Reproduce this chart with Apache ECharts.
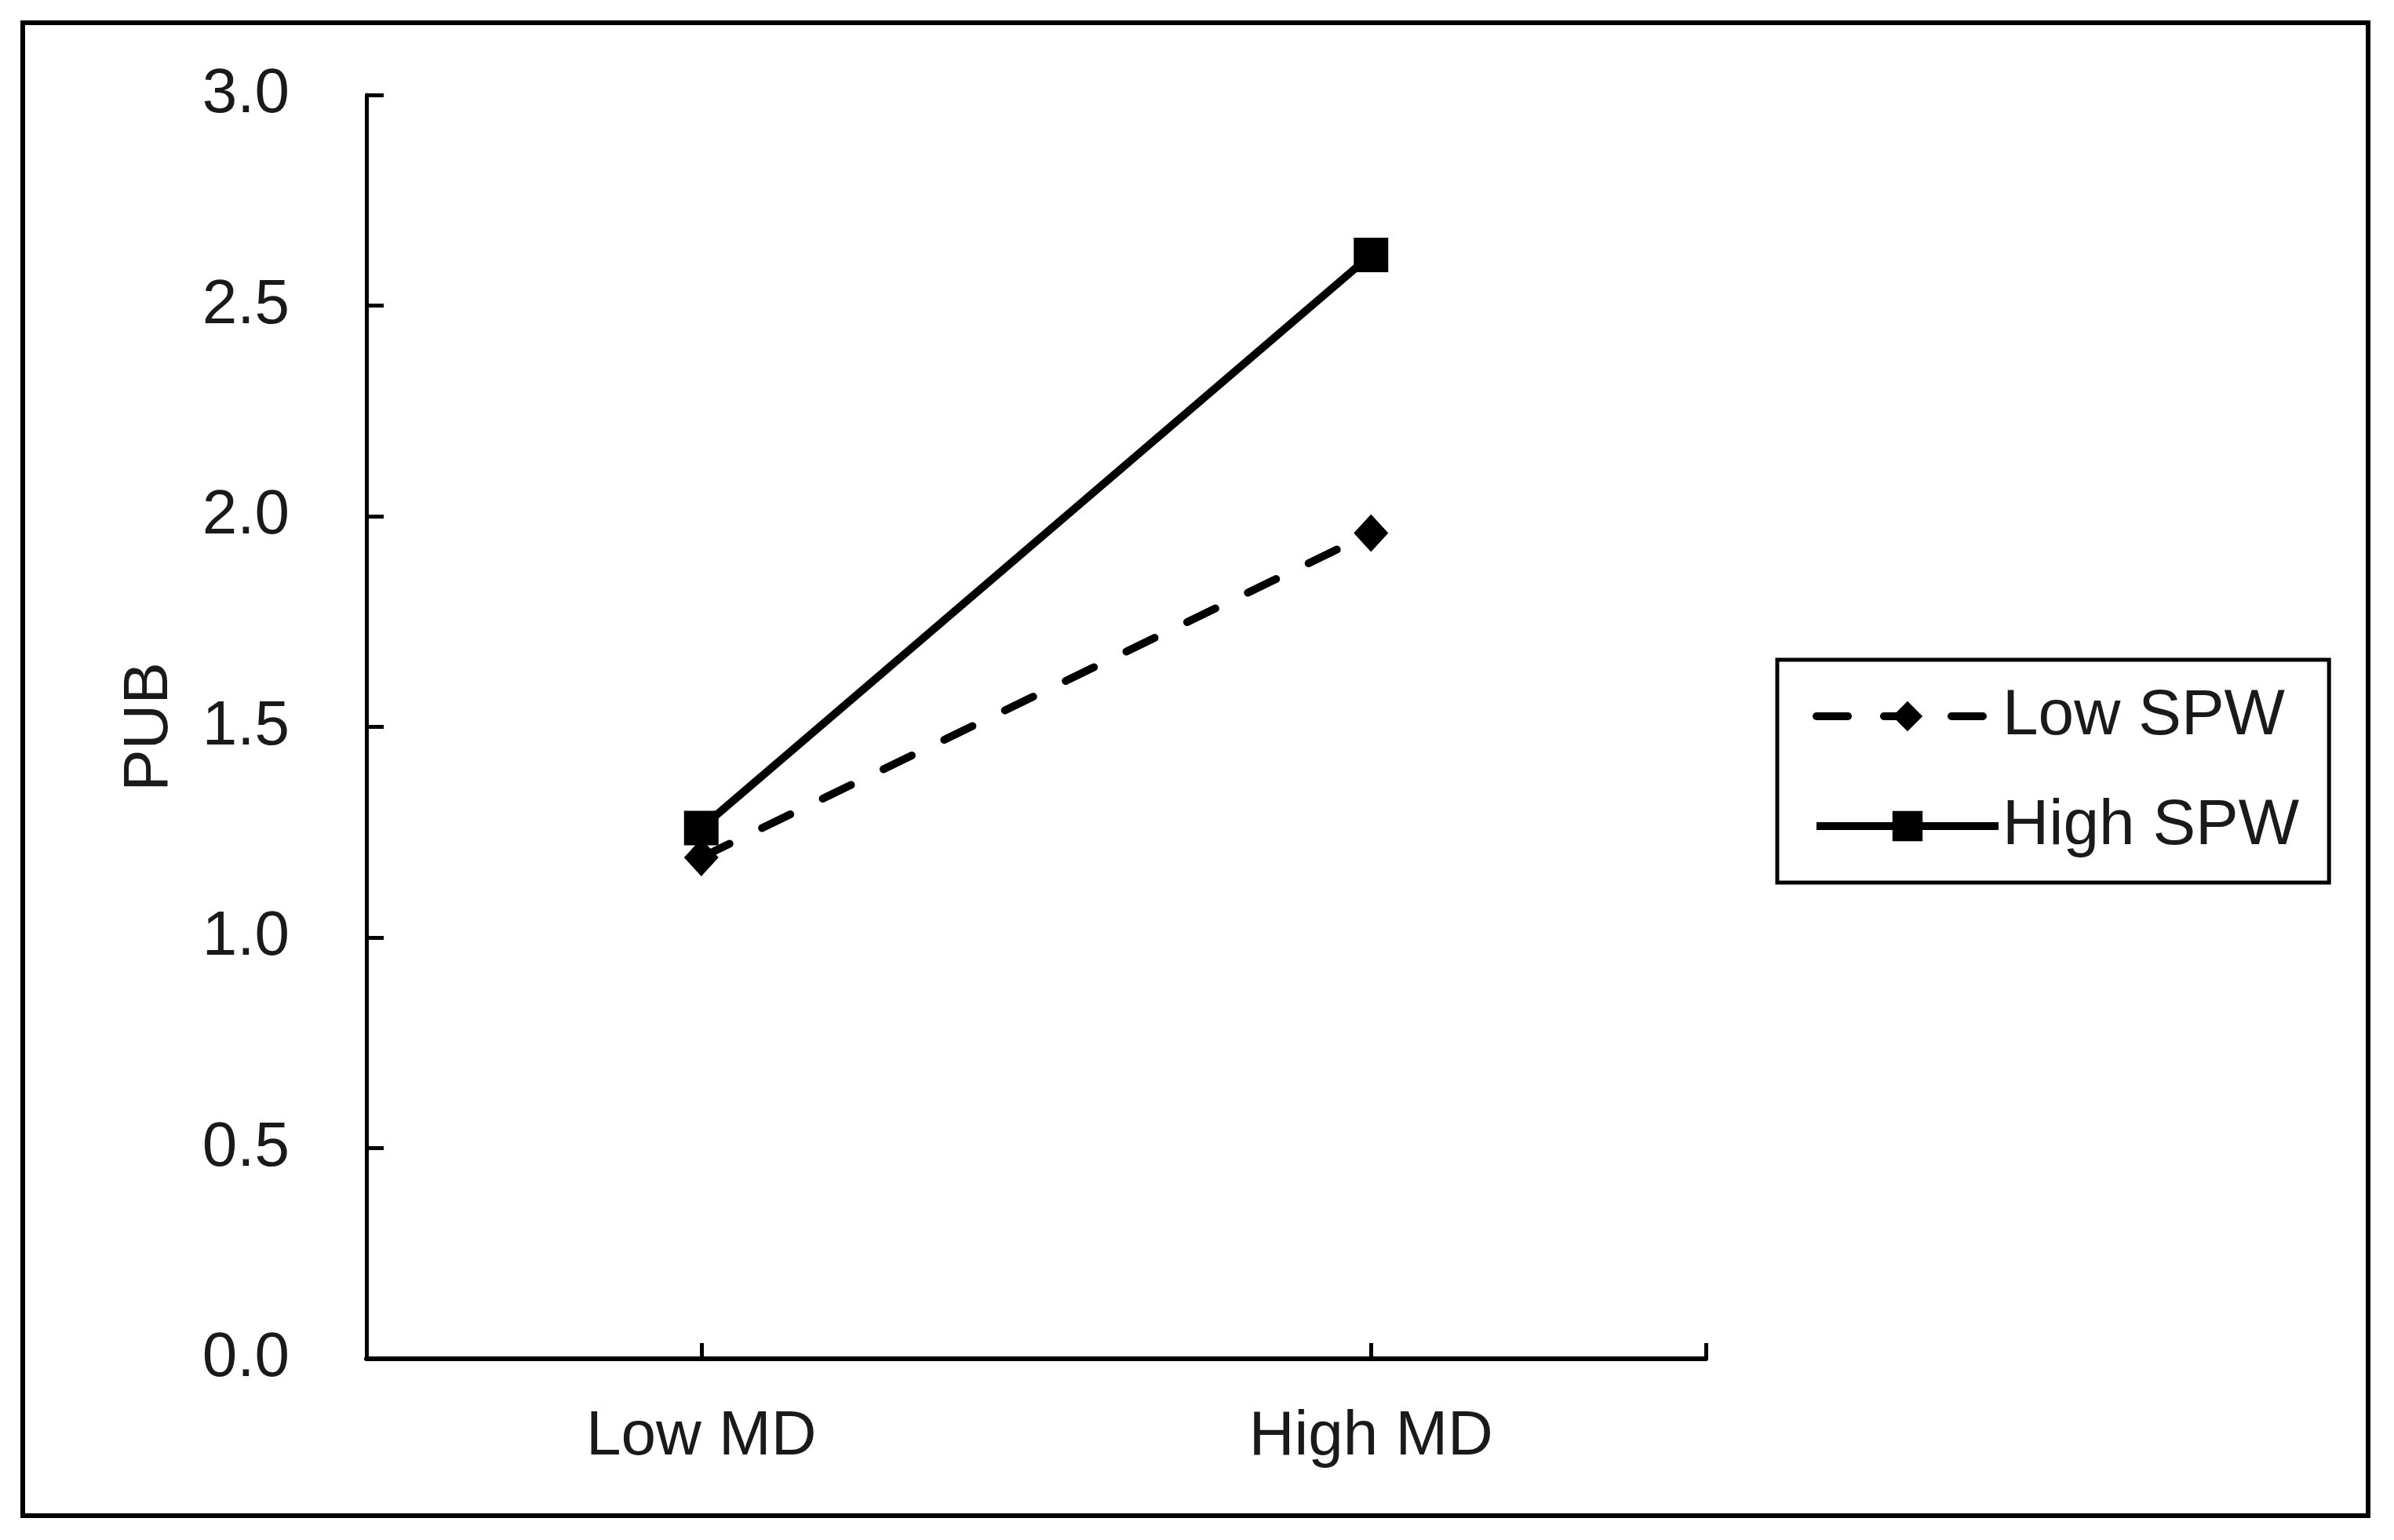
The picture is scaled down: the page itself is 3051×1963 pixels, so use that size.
<!DOCTYPE html>
<html>
<head>
<meta charset="utf-8">
<script src="https://cdn.jsdelivr.net/npm/echarts@6/dist/echarts.min.js"></script>
<style>
html,body{margin:0;padding:0;background:#fff;}
#c{width:3051px;height:1963px;}
</style>
</head>
<body>
<div id="c"></div>
<script>
const categories = ['Low MD', 'High MD'];
const lowSPW = [1.19, 1.96];
const highSPW = [1.26, 2.62];
const yTicks = [0, 0.5, 1.0, 1.5, 2.0, 2.5, 3.0];
const yName = 'PUB';
const seriesNames = ['Low SPW', 'High SPW'];

const FONT = 'Liberation Sans';
const TXT = '#1a1a1a';

const catPos = categories.map((c, i) => i + 0.5);
const toPts = arr => arr.map((v, i) => [catPos[i], v]);

const chart = echarts.init(document.getElementById('c'), null, {renderer: 'canvas'});
chart.setOption({
  backgroundColor: '#fff',
  animation: false,
  graphic: [{
    type: 'rect',
    shape: {x: 29, y: 29, width: 2989, height: 1903},
    style: {fill: 'none', stroke: '#000', lineWidth: 6},
    silent: true
  }],
  grid: {left: 467, top: 121, right: 877, bottom: 231, containLabel: false},
  xAxis: {
    type: 'value',
    min: 0,
    max: categories.length,
    splitLine: {show: false},
    axisLine: {show: true, onZero: false, lineStyle: {color: '#000', width: 6}},
    axisTick: {show: true, inside: true, length: 20, lineStyle: {color: '#000', width: 5},
      customValues: catPos.concat([categories.length])},
    axisLabel: {
      customValues: catPos,
      margin: 60,
      fontFamily: FONT, fontSize: 80, color: TXT,
      formatter: v => categories[Math.round(v - 0.5)] || ''
    }
  },
  yAxis: {
    type: 'value',
    min: yTicks[0],
    max: yTicks[yTicks.length - 1],
    interval: 0.5,
    name: yName,
    nameLocation: 'middle',
    nameGap: 236,
    nameTextStyle: {fontFamily: FONT, fontSize: 80, color: TXT},
    splitLine: {show: false},
    axisLine: {show: true, lineStyle: {color: '#000', width: 5}},
    axisTick: {show: true, inside: true, length: 22, lineStyle: {color: '#000', width: 5}},
    axisLabel: {
      margin: 98,
      fontFamily: FONT, fontSize: 80, color: TXT,
      formatter: v => v.toFixed(1)
    }
  },
  legend: {
    orient: 'vertical',
    left: 2265,
    top: 841,
    data: seriesNames,
    borderColor: '#000',
    borderWidth: 5,
    padding: [27, 38, 27, 45],
    itemWidth: 232,
    itemHeight: 48,
    itemGap: 50,
    lineStyle: {width: 10},
    textStyle: {fontFamily: FONT, fontSize: 82, lineHeight: 90, color: TXT}
  },
  series: [
    {
      name: seriesNames[0],
      type: 'line',
      data: toPts(lowSPW),
      symbol: 'diamond',
      symbolSize: [44, 48],
      itemStyle: {color: '#000'},
      lineStyle: {color: '#000', width: 10, type: [40, 46], cap: 'round'},
      z: 2
    },
    {
      name: seriesNames[1],
      type: 'line',
      data: toPts(highSPW),
      symbol: 'rect',
      symbolSize: 44,
      itemStyle: {color: '#000'},
      lineStyle: {color: '#000', width: 10},
      z: 3
    }
  ]
});
</script>
</body>
</html>
